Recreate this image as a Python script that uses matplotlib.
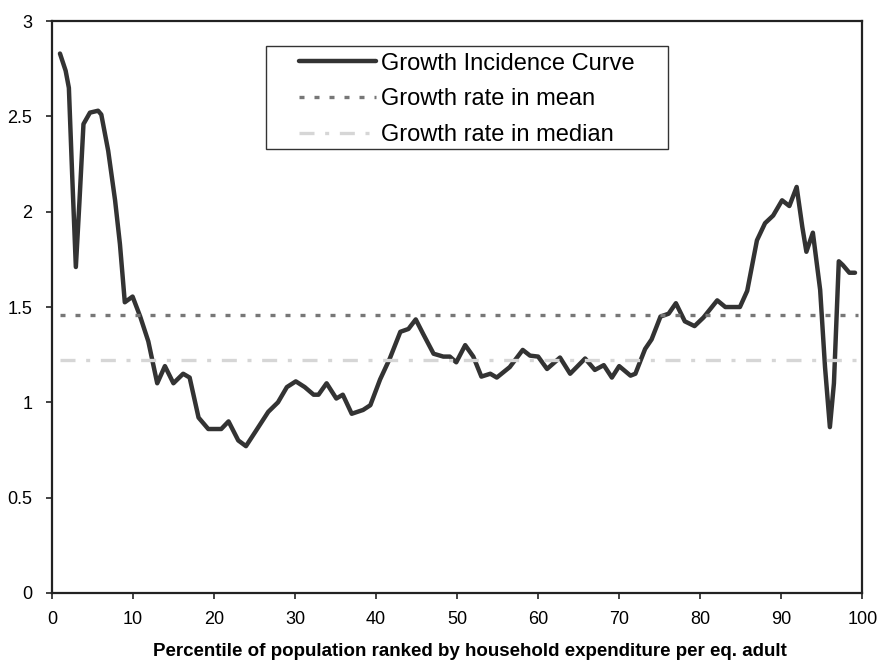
import matplotlib.pyplot as plt
from matplotlib.patches import Rectangle

plt.rcParams['font.family'] = ['Liberation Sans', 'DejaVu Sans']

# Growth incidence curve, by percentile
percentile = [1.0, 1.7, 2.1, 2.5, 2.96, 3.4, 3.9, 4.7, 5.7, 6.1, 6.95, 7.8, 8.4, 9.0,
              9.96, 10.9, 11.9, 13.0, 13.95, 15.0, 16.2, 17.0, 18.1, 19.3, 20.9, 21.8,
              23.0, 23.95, 25.1, 26.7, 27.9, 29.0, 30.1, 31.2, 32.3, 32.9, 33.9, 35.1,
              35.9, 37.0, 38.4, 39.3, 40.5, 41.7, 43.0, 44.0, 44.9, 45.8, 47.1, 48.3,
              49.1, 49.9, 51.0, 52.0, 53.0, 54.1, 54.9, 56.5, 58.1, 59.0, 60.0, 61.1,
              62.7, 63.95, 65.8, 67.0, 68.1, 69.1, 70.0, 71.4, 72.0, 73.2, 74.0, 75.1,
              76.1, 77.0, 78.1, 79.3, 80.4, 82.1, 83.1, 84.9, 85.8, 87.0, 88.0, 89.0,
              90.1, 91.0, 91.9, 92.6, 93.1, 93.9, 94.8, 95.4, 96.0, 96.5, 97.1, 97.6,
              98.4, 99.1]
growth = [2.83, 2.74, 2.65, 2.20, 1.71, 2.05, 2.46, 2.52, 2.53, 2.51, 2.32, 2.06, 1.83, 1.525,
          1.555, 1.45, 1.32, 1.10, 1.19, 1.10, 1.15, 1.13, 0.92, 0.86, 0.86, 0.90,
          0.80, 0.77, 0.845, 0.95, 1.00, 1.08, 1.11, 1.08, 1.04, 1.04, 1.10, 1.02,
          1.04, 0.94, 0.96, 0.985, 1.12, 1.23, 1.37, 1.385, 1.435, 1.36, 1.255, 1.24,
          1.24, 1.21, 1.30, 1.24, 1.135, 1.15, 1.13, 1.185, 1.275, 1.245, 1.24, 1.175,
          1.235, 1.15, 1.23, 1.17, 1.195, 1.13, 1.19, 1.14, 1.15, 1.28, 1.33, 1.45,
          1.465, 1.52, 1.425, 1.40, 1.445, 1.535, 1.50, 1.50, 1.585, 1.85, 1.94, 1.98,
          2.06, 2.03, 2.13, 1.92, 1.79, 1.89, 1.59, 1.185, 0.87, 1.10, 1.74, 1.72,
          1.68, 1.68]

mean_growth = 1.46
median_growth = 1.22
line_span = [1, 99.5]

fig = plt.figure(figsize=(8.79, 6.61), dpi=100)
ax = fig.add_axes([0.059, 0.103, 0.922, 0.865])

ax.plot(percentile, growth, color='#333333', lw=3.2, solid_joinstyle='round',
        solid_capstyle='round', label='Growth Incidence Curve')
ax.plot(line_span, [mean_growth, mean_growth], color='#777777', lw=2.4,
        linestyle=(0, (1.5, 3.0)), label='Growth rate in mean')
ax.plot(line_span, [median_growth, median_growth], color='#d6d6d6', lw=2.4,
        linestyle=(0, (4.5, 3.2, 1.2, 3.2)), label='Growth rate in median')

ax.set_xlim(0, 100)
ax.set_ylim(0, 3)
ax.set_xticks(range(0, 101, 10))
ax.set_yticks([0, 0.5, 1, 1.5, 2, 2.5, 3])
ax.set_yticklabels(['0', '0.5', '1', '1.5', '2', '2.5', '3'])
ax.tick_params(direction='out', length=4, width=1.2, labelsize=13, color='#222222')
ax.tick_params(axis='x', pad=9)
ax.tick_params(axis='y', pad=10)

for s in ax.spines.values():
    s.set_linewidth(1.6)
    s.set_color('#222222')

ax.set_xlabel('Percentile of population ranked by household expenditure per eq. adult',
              fontsize=13.5, fontweight='bold', labelpad=11)
ax.xaxis.label.set_x(0.516)

# legend frame drawn separately so the padding can be wider than tall
ax.add_patch(Rectangle((0.264, 0.776), 0.496, 0.180, transform=ax.transAxes,
                       facecolor='white', edgecolor='#333333', lw=1.0, zorder=4))
leg = ax.legend(loc='upper left', bbox_to_anchor=(0.305, 0.945), fontsize=17,
                handlelength=3.26, handletextpad=0.2, labelspacing=0.58,
                frameon=False, borderpad=0, borderaxespad=0)
leg.set_zorder(5)

fig.savefig('out.png', dpi=100)
